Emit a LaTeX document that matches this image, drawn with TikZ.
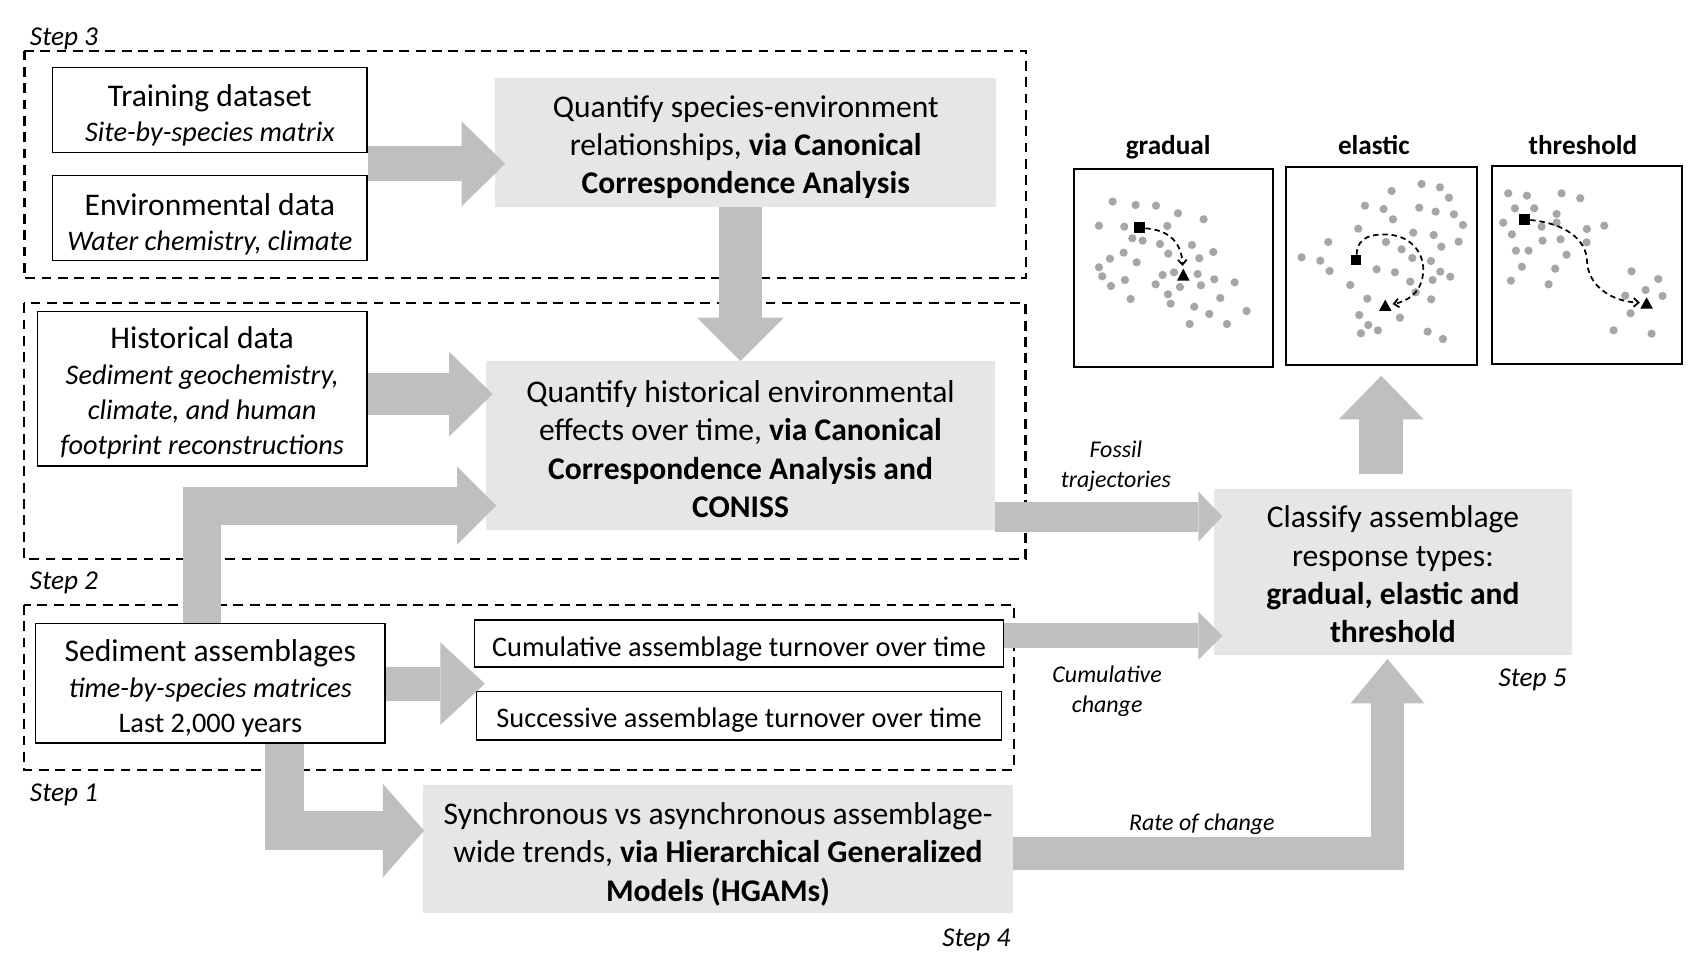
\documentclass[tikz,border=0pt]{standalone}
\usepackage{fontspec}
\setmainfont{Carlito}
\usetikzlibrary{arrows.meta,calc}
\definecolor{agray}{HTML}{BFBFBF}
\definecolor{bgray}{HTML}{E6E6E6}
\definecolor{dgray}{HTML}{A6A6A6}
\newcommand\fsz[2]{\fontsize{#1}{#2}\selectfont}
\newcommand\lift[1]{\rule{0pt}{#1em}}
\begin{document}
\begin{tikzpicture}[x=1pt,y=-1pt,
  wbox/.style={draw=black, line width=1.2pt, fill=white, inner sep=0pt, align=center, font=\fsz{29}{32.5}},
  gbox/.style={fill=bgray, inner sep=0pt, align=center, font=\fsz{29}{35.2}},
  stepframe/.style={draw=black, line width=2pt, dash pattern=on 9pt off 6pt},
  fat/.style n args={3}{draw=agray, line width=#1, line join=miter, -{Triangle[length=#3,width=#2,line width=0pt]}},
  lbl/.style={font=\fsz{22}{27.5}\itshape, align=center},
  steplbl/.style={font=\fsz{25}{30}\itshape, anchor=base west},
  ptitle/.style={font=\fsz{25}{30}\bfseries, anchor=base},
  panel/.style={draw=black, line width=1.8pt, inner sep=0pt},
  traj/.style={draw=black, line width=1.6pt, dash pattern=on 5pt off 3.5pt, -{Straight Barb[length=4.5pt,width=8pt]}}
]
\fill[white] (0,0) rectangle (1568,882);
\useasboundingbox (0,0) rectangle (1568,882);

% step frames
\draw[stepframe] (22.5,46.5) rectangle (942.5,255.7);
\draw[stepframe] (22,278.5) rectangle (942,513.6);
\draw[stepframe] (22,555.7) rectangle (931.4,707);
\node[steplbl] (s3) at (24,42) {Step 3};
\node[steplbl] (s2) at (24,541.5) {Step 2};
\node[steplbl] (s1) at (24,736.5) {Step 1};
\node[steplbl] (s4) at (862,869.5) {Step 4};
\node[steplbl] (s5) at (1373,630.5) {Step 5};

% boxes
\node[wbox, minimum width=288.5pt, minimum height=78pt] (train) at (192.75,101) {\lift{1.04}Training dataset\\{\fsz{26}{32.5}\itshape Site-by-species matrix}};
\node[wbox, minimum width=288.5pt, minimum height=78pt] (env) at (192.75,200) {\lift{1.1}Environmental data\\{\fsz{26}{32.5}\itshape Water chemistry, climate}};
\node[gbox, minimum width=460.5pt, minimum height=118pt] (q1) at (685,131) {\lift{0.98}Quantify species-environment\\relationships, \textbf{via Canonical}\\\textbf{Correspondence Analysis}};
\node[wbox, minimum width=302.6pt, minimum height=142pt] (hist) at (185.7,357) {\lift{0.98}Historical data\\{\fsz{26}{32}\itshape Sediment geochemistry,}\\{\fsz{26}{32}\itshape climate, and human}\\{\fsz{26}{32}\itshape footprint reconstructions}};
\node[gbox, minimum width=467.6pt, minimum height=154.8pt] (qhist) at (680.2,409.4) {\lift{0.91}Quantify historical environmental\\effects over time, \textbf{via Canonical}\\\textbf{Correspondence Analysis and}\\\textbf{CONISS}};
\node[wbox, minimum width=320.8pt, minimum height=110pt] (sed) at (193.2,627.5) {\lift{1.04}Sediment assemblages\\{\fsz{26}{32}\itshape time-by-species matrices}\\{\fsz{26}{32}Last 2,000 years}};
\node[wbox, minimum width=485.6pt, minimum height=43.2pt, font=\fsz{26}{32}] (cum) at (678.8,591.1) {\lift{1.08}Cumulative assemblage turnover over time};
\node[wbox, minimum width=481.8pt, minimum height=44.4pt, font=\fsz{26}{32}] (succ) at (678.9,657.5) {\lift{1.02}Successive assemblage turnover over time};
\node[gbox, minimum width=541.6pt, minimum height=117.6pt] (sync) at (659.6,779.8) {\lift{1.04}Synchronous vs asynchronous assemblage-\\wide trends, \textbf{via Hierarchical Generalized}\\\textbf{Models (HGAMs)}};
\node[gbox, minimum width=329pt, minimum height=153pt] (cls) at (1279.5,525.5) {\lift{0.84}Classify assemblage\\response types:\\\textbf{gradual, elastic and}\\\textbf{threshold}};

% panels
\node[panel, minimum width=182.5pt, minimum height=181.3pt] (pgrad) at (1077.75,246.15) {};
\node[panel, minimum width=175.1pt, minimum height=181.6pt] (pela) at (1268.75,244.5) {};
\node[panel, minimum width=174.6pt, minimum height=182.1pt] (pthr) at (1457.7,243.55) {};
\node[ptitle] (tgrad) at (1073,142) {gradual};
\node[ptitle] (tela) at (1262,142) {elastic};
\node[ptitle] (tthr) at (1454,142) {threshold};

\begin{scope}[shift={(982.82,146.96)}, x=0.3062pt, y=-0.3062pt]
\foreach \p in {(128,125),(197,135),(258,137),(324,160),(401,178),(87,197),(163,200),(292,198),(187,235),(218,242),(270,252),(366,255),(161,278),(295,281),(388,295),(430,276),(120,296),(200,307),(87,322),(97,349),(165,360),(123,378),(278,345),(312,337),(383,342),(433,358),(494,367),(257,373),(330,381),(393,376),(294,403),(182,417),(302,431),(451,414),(373,440),(530,453),(418,462),(359,492),(471,492)}
  \fill[dgray] \p circle (3.8pt);
\fill[black] (192,187) rectangle (224,219);
\fill[black] (340,326) -- (359,362) -- (321,362) -- cycle;
\draw[traj] (226,205) .. controls (300,210) and (335,250) .. (338,318);
\end{scope}

\begin{scope}[shift={(1175.7,146.96)}, x=0.3062pt, y=-0.3062pt]
\foreach \p in {(425,72),(480,82),(335,93),(507,113),(255,137),(311,147),(418,143),(467,155),(522,163),(339,178),(549,195),(235,206),(400,218),(461,225),(145,246),(318,246),(484,260),(536,245),(365,268),(65,292),(121,302),(397,294),(453,303),(149,333),(290,328),(345,337),(481,335),(511,350),(391,365),(458,360),(211,375),(407,397),(262,416),(454,418),(238,465),(360,473),(265,495),(294,511),(243,520),(443,515),(489,537)}
  \fill[dgray] \p circle (3.8pt);
\fill[black] (212,284) rectangle (244,316);
\fill[black] (316,419) -- (335,453) -- (297,453) -- cycle;
\draw[traj] (230,284) .. controls (232,225) and (285,222) .. (325,224) .. controls (400,228) and (440,290) .. (428,350) .. controls (420,400) and (380,425) .. (338,432);
\end{scope}

\begin{scope}[shift={(1364.9,146.96)}, x=0.3062pt, y=-0.3062pt]
\foreach \p in {(67,100),(123,107),(227,100),(283,115),(87,145),(145,145),(212,162),(52,188),(167,200),(212,188),(303,207),(355,197),(78,223),(170,242),(224,238),(302,247),(90,272),(128,272),(242,284),(108,320),(208,326),(75,362),(188,373),(437,334),(517,357),(479,390),(418,407),(530,408),(434,460),(383,511),(497,521)}
  \fill[dgray] \p circle (3.8pt);
\fill[black] (99,162) rectangle (131,194);
\fill[black] (482,412) -- (501,446) -- (463,446) -- cycle;
\draw[traj] (133,180) .. controls (240,190) and (300,240) .. (303,300) .. controls (305,380) and (380,425) .. (462,428);
\end{scope}

% connector coordinates
\coordinate (a1s) at ($(train.east)!0.5!(env.east)$);
\coordinate (a1e) at ([xshift=9.5pt]q1.west);
\coordinate (a3s) at ([yshift=-5pt]hist.east);
\coordinate (a3e) at ([xshift=6.3pt]qhist.west);
\coordinate (a4c) at (185.7,464.5);
\coordinate (a4e) at ([xshift=9.6pt]qhist.west);
\coordinate (a6s) at ([yshift=-0.5pt]sed.east);
\coordinate (a6e) at ([xshift=10pt]cum.west);
\coordinate (a8c) at (261.6,763);
\coordinate (a8e) at ([xshift=1pt]sync.west);
\coordinate (a9y) at (0,784);
\coordinate (a9x) at (1274.5,0);
\coordinate (a9e) at ([yshift=-3pt]cls.south);
\coordinate (a5y) at (0,474.5);
\coordinate (a5e) at ([xshift=8pt]cls.west);
\coordinate (a7y) at (0,584);
\coordinate (a10s) at ([yshift=13pt]cls.north);
\coordinate (a10e) at ([yshift=-9pt]pela.south);

% connectors
\draw[fat={32pt}{78pt}{40pt}] (a1s) -- (a1e |- a1s);
\draw[fat={40pt}{80pt}{40pt}] (qhist.north |- q1.south) -- (qhist.north);
\draw[fat={39pt}{78pt}{40pt}] (a3s) -- (a3e |- a3s);
\draw[fat={35pt}{72pt}{36pt}] (sed.north -| a4c) |- (a4e |- a4c);
\draw[fat={31pt}{76pt}{41pt}] (a6s) -- (a6e |- a6s);
\draw[fat={36pt}{86pt}{38pt}] (sed.south -| a8c) |- (a8e |- a8c);
\draw[fat={31pt}{68pt}{41pt}] (sync.east |- a9y) -| (a9x |- a9e);
\draw[fat={27.5pt}{46pt}{22pt}] (qhist.east |- a5y) -- (a5e |- a5y);
\draw[fat={23pt}{44pt}{22pt}] (cum.east |- a7y) -- (a5e |- a7y);
\draw[fat={40pt}{78pt}{40pt}] (a10e |- a10s) -- (a10e);

% labels
\node[lbl] (lfos) at (1025,428.5) {Fossil\\trajectories};
\node[lbl] (lcum) at (1017,635) {Cumulative\\change};
\node[lbl] (lrate) at (1104,757) {Rate of change};
\end{tikzpicture}
\end{document}
